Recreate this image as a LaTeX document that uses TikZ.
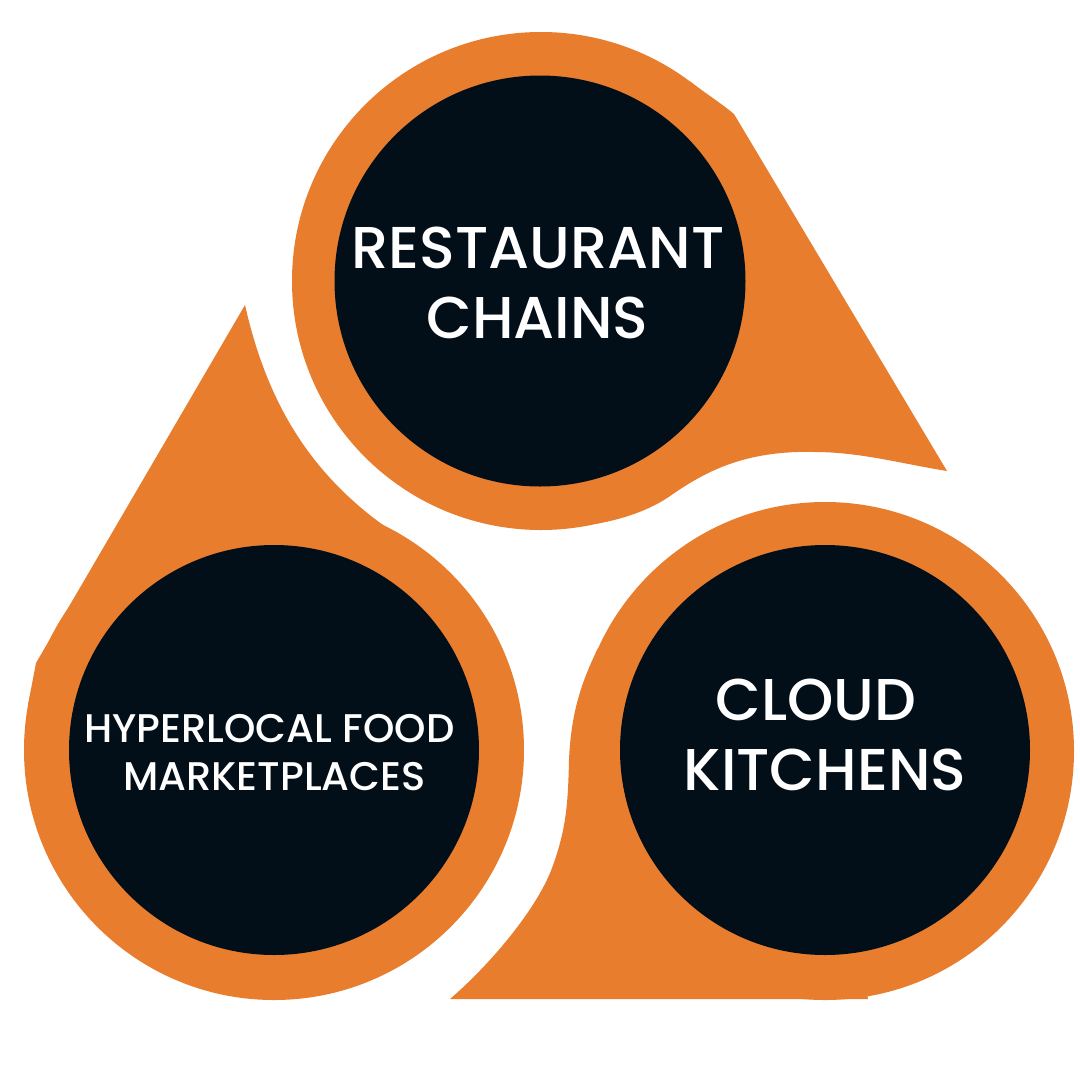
\documentclass[tikz,border=0pt]{standalone}
\usepackage{fontspec}
\setmainfont{Poppins Medium}
\definecolor{orng}{HTML}{E97D2E}
\definecolor{navy}{HTML}{020F19}
\begin{document}
\begin{tikzpicture}[x=1pt,y=-1pt,
  orangefill/.style={fill=orng,draw=none},
  darkfill/.style={fill=navy,draw=none},
  biglbl/.style={text=white,anchor=base,inner sep=0pt,font=\fontsize{59}{70}\selectfont},
  smalllbl/.style={text=white,anchor=base,inner sep=0pt,font=\fontsize{40}{48}\selectfont}]
\useasboundingbox[fill=white] (0,0) rectangle (1080,1080);
% top teardrop
\fill[orangefill] (541,281) circle[radius=249];
\fill[orangefill] (690,81.5) .. controls (706,93.5) and (722,104) .. (734,114)
  -- (947,471)
  .. controls (903,464) and (860,452) .. (815,452)
  .. controls (745,450) and (705,472) .. (673,494)
  .. controls (655,507) and (630,518) .. (595,524) -- (541,281) -- cycle;
% bottom-right teardrop
\fill[orangefill] (825,751) circle[radius=249];
\fill[orangefill] (598,648) .. controls (580,685) and (571,715) .. (569,760)
  .. controls (568,805) and (566,830) .. (552,868)
  .. controls (538,906) and (495,960) .. (450,999) -- (868,999) -- (825,751) -- cycle;
% bottom-left teardrop
\fill[orangefill] (28,705) -- (36,663) -- (245,305)
  .. controls (265,393) and (305,478) .. (407,541)
  .. controls (430,555) and (456.7,578.2) .. (472,598) -- (274,750) -- cycle;
\fill[orangefill] (274,750) circle[radius=250];
% dark circles
\node[darkfill,circle,minimum size=411pt,inner sep=0pt] (top) at (540,281) {};
\node[darkfill,circle,minimum size=410pt,inner sep=0pt] (right) at (825,750) {};
\node[darkfill,circle,minimum size=410pt,inner sep=0pt] (left) at (274,750) {};
% labels
\node[biglbl] (t1) at (538,268) {RESTAURANT};
\node[biglbl] (t2) at (537.5,338) {CHAINS};
\node[biglbl] (r1) at (816,720) {CLOUD};
\node[biglbl] (r2) at (825,790) {KITCHENS};
\node[smalllbl] (l1) at (269.5,742) {HYPERLOCAL FOOD};
\node[smalllbl] (l2) at (274.5,790) {MARKETPLACES};
\end{tikzpicture}
\end{document}
